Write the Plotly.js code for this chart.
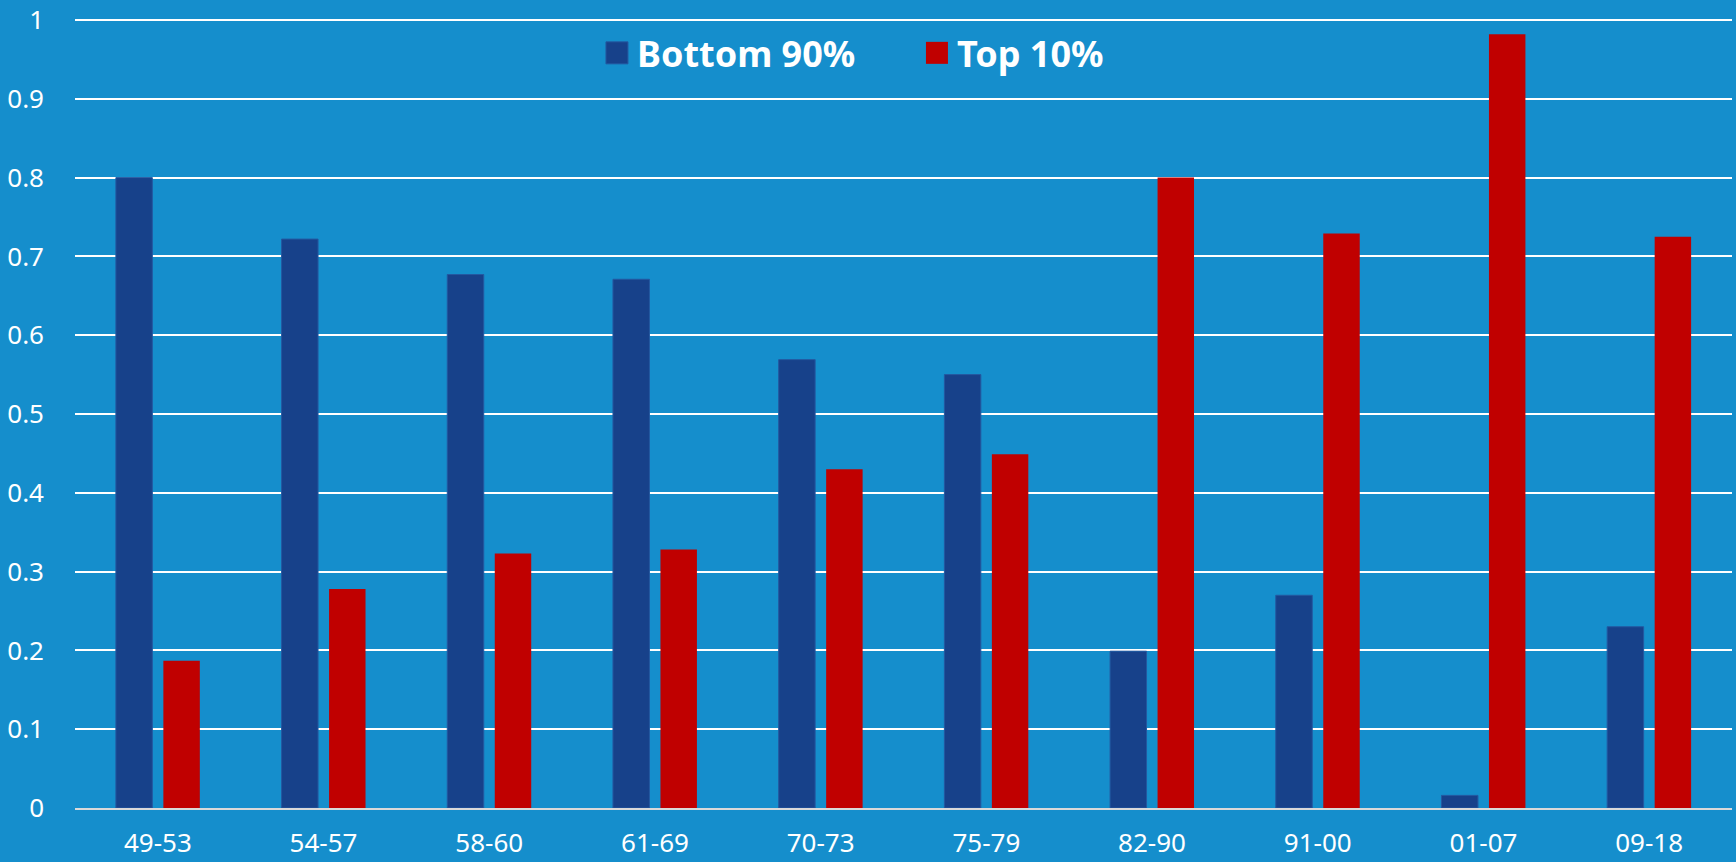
<!DOCTYPE html>
<html>
<head>
<meta charset="utf-8">
<script src="https://cdn.plot.ly/plotly-3.0.1.min.js"></script>
<style>
html,body{margin:0;padding:0;background:#158ECC;}
#chart{width:1736px;height:862px;}
</style>
</head>
<body>
<div id="chart"></div>
<script>
var periods = ["49-53","54-57","58-60","61-69","70-73","75-79","82-90","91-00","01-07","09-18"];
var bottom90 = [0.800,0.722,0.677,0.671,0.569,0.550,0.199,0.270,0.016,0.230];
var top10 = [0.187,0.278,0.323,0.328,0.430,0.449,0.800,0.729,0.982,0.725];
var yTicks = [0,0.1,0.2,0.3,0.4,0.5,0.6,0.7,0.8,0.9,1];
var yTickText = ["0","0.1","0.2","0.3","0.4","0.5","0.6","0.7","0.8","0.9","1"];

var font = "Noto Sans, Open Sans, sans-serif";
var traces = [
  {type:"bar", name:"Bottom 90%", x:periods, y:bottom90,
   marker:{color:"#17418A", line:{color:"#2458A0", width:1}}},
  {type:"bar", name:"Top 10%", x:periods, y:top10,
   marker:{color:"#C00000", line:{width:0}}}
];
var layout = {
  width:1736, height:862,
  paper_bgcolor:"#158ECC", plot_bgcolor:"#158ECC",
  margin:{l:75, r:4, t:19, b:54},
  barmode:"group", bargap:0.427, bargroupgap:0.232,
  font:{family:font, color:"#FFFFFF", size:26},
  showlegend:true,
  legend:{orientation:"h", x:0.315, xanchor:"left", y:0.995, yanchor:"top",
          bgcolor:"rgba(0,0,0,0)", font:{size:36, color:"#FFFFFF", family:font, weight:"bold"},
          entrywidth:275, itemclick:false},
  xaxis:{type:"category", showgrid:false, showline:true, linecolor:"#D9D9D9", linewidth:2,
         ticks:"", ticklabelstandoff:11, tickfont:{size:26, color:"#FFFFFF"}, fixedrange:true},
  yaxis:{range:[0,1.0013], autorange:false, tickvals:yTicks, ticktext:yTickText,
         showgrid:true, gridcolor:"#FFFFFF", gridwidth:2, zeroline:false, showline:false,
         ticklabeloverflow:"allow",
         ticks:"", ticklabelstandoff:30, tickfont:{size:26, color:"#FFFFFF"}, fixedrange:true}
};
Plotly.newPlot("chart", traces, layout, {displayModeBar:false, staticPlot:true}).then(function(gd){
  var paths = gd.querySelectorAll(".legendpoints path");
  paths.forEach(function(p){ p.setAttribute("d","M11,11H-11V-11H11Z"); });
});
</script>
</body>
</html>
